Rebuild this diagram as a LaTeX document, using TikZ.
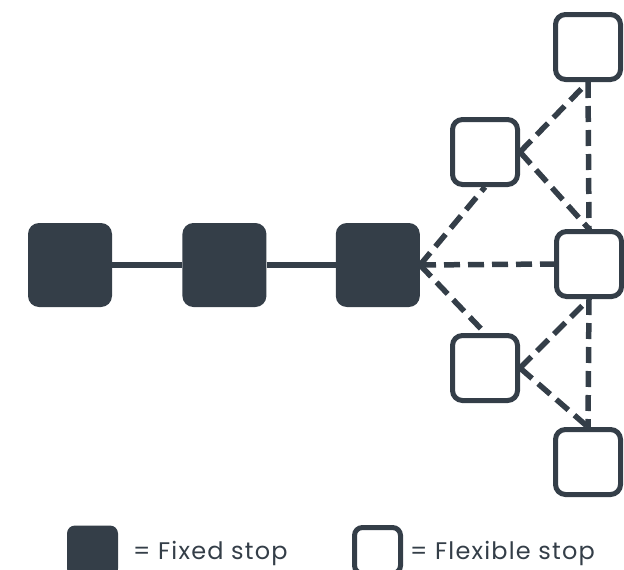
\documentclass[tikz,border=0pt]{standalone}
\usepackage{fontspec}
\setmainfont{Poppins}
\usetikzlibrary{positioning}
\definecolor{stopgray}{RGB}{52,62,72}

\begin{document}
\begin{tikzpicture}
[x=1pt, y=-1pt,
fixed/.style={rectangle, fill=stopgray, rounded corners=11pt, minimum size=84pt, inner sep=0pt},
flexible/.style={rectangle, draw=stopgray, fill=white, line width=5pt, rounded corners=10pt, minimum size=65pt, inner sep=0pt},
route/.style={draw=stopgray, line width=5.5pt},
option/.style={route, dash pattern=on 16pt off 8pt},
legend/.style={font=\fontsize{24}{28}\selectfont\addfontfeature{LetterSpace=5}, text=stopgray, anchor=base west, inner sep=0pt}]

\clip (0,0) rectangle (624,570);

% fixed stops
\node[fixed] (fixA) at (70,265) {};
\node[fixed, right=70pt of fixA] (fixB) {};
\node[fixed, right=69pt of fixB] (fixC) {};

% flexible stops
\node[flexible] (flexTop) at (588,47) {};
\node[flexible] (flexUp) at (485,152) {};
\node[flexible] (flexMid) at (589,264) {};
\node[flexible] (flexLow) at (485,368) {};
\node[flexible] (flexBot) at (588,462) {};

% fixed route
\draw[route] (fixA) -- (fixB);
\draw[route] (fixB) -- (fixC);

% flexible routes
\draw[option] (fixC.east) -- (flexUp.south);
\draw[option] (fixC.east) -- (flexMid.west);
\draw[option] (fixC.east) -- (flexLow.north);
\draw[option] (flexUp.east) -- (flexTop.south);
\draw[option] (flexUp.east) -- (flexMid.north);
\draw[option] (flexTop.south) -- (flexMid.north);
\draw[option] (flexLow.east) -- (flexMid.south);
\draw[option] (flexLow.east) -- (flexBot.north);
\draw[option] (flexMid.south) -- (flexBot.north);

% legend
\node[fixed, minimum size=51pt, rounded corners=8pt] (keyFixed) at (92.5,551) {};
\node[legend] (keyFixedText) at (133,559) {= Fixed stop};
\node[flexible, minimum size=46pt, rounded corners=8pt] (keyFlex) at (377.5,550.5) {};
\node[legend] (keyFlexText) at (410,559) {= Flexible stop};
\end{tikzpicture}
\end{document}
